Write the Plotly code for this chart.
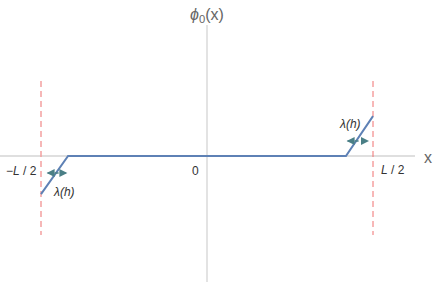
import plotly.graph_objects as go

# data (L = 2, so ±L/2 = ±1)
L = 2.0
lam = 0.163
curve_x = [-L/2, -L/2 + lam, L/2 - lam, L/2]
curve_phi = [-0.23, 0.0, 0.0, 0.24]
boundary_x = [-L/2, L/2]
tick_labels = ["\u2212<i>L</i> / 2", "0", "<i>L</i> / 2"]
lam_label = "<i>\u03bb(h)</i>"

S = 166.0  # px per unit
x0px, y0px = 207.0, 156.0
xr = [-x0px / S, (436 - x0px) / S]
yr = [-(286 - y0px) / S, y0px / S]

fig = go.Figure()
axis_col = "#d4d4d4"
# axes
fig.add_trace(go.Scatter(x=[xr[0], (415 - x0px) / S], y=[0, 0], mode="lines",
                         line=dict(color=axis_col, width=1.3), hoverinfo="skip"))
fig.add_trace(go.Scatter(x=[0, 0], y=[(y0px - 25) / S, -(282 - y0px) / S], mode="lines",
                         line=dict(color=axis_col, width=1.3), hoverinfo="skip"))
# boundaries
dtop, dbot = (y0px - 81) / S, -(235 - y0px) / S
fig.add_trace(go.Scatter(x=[boundary_x[0]] * 2, y=[dtop, dbot], mode="lines",
                         line=dict(color="#f4a0a0", width=1.5, dash="6px,4px"), hoverinfo="skip"))
fig.add_trace(go.Scatter(x=[boundary_x[1]] * 2, y=[dtop, dbot], mode="lines",
                         line=dict(color="#f07070", width=1, dash="6px,4px"), hoverinfo="skip"))
# curve
fig.add_trace(go.Scatter(x=curve_x, y=curve_phi, mode="lines",
                         line=dict(color="#5e81b5", width=2), hoverinfo="skip"))
# lambda arrows
arr_col = "#4a7f86"
for (xa, xb, yy) in [(-L/2 + 0.02, -L/2 + lam + 0.01, -(173 - y0px) / S),
                     (L/2 - lam - 0.01, L/2 - 0.01, (y0px - 141) / S)]:
    fig.add_trace(go.Scatter(x=[xa + 0.02, xb - 0.02], y=[yy, yy], mode="lines",
                             line=dict(color=arr_col, width=1.5, dash="4px,3px"), hoverinfo="skip"))
    fig.add_trace(go.Scatter(x=[xa + 0.014, xb - 0.014], y=[yy, yy], mode="markers",
                             marker=dict(symbol=["arrow-left", "arrow-right"], size=8,
                                         color=arr_col, line=dict(width=0)),
                             hoverinfo="skip"))

font = dict(family="Liberation Sans, Arial, sans-serif", size=12, color="#333333")
ann = [
    dict(x=-L/2 - 0.115, y=-(171 - y0px) / S, text=tick_labels[0]),
    dict(x=-(207 - 195) / S, y=-(171 - y0px) / S, text=tick_labels[1]),
    dict(x=L/2 + 0.12, y=-(170 - y0px) / S, text=tick_labels[2]),
    dict(x=(64 - x0px) / S, y=-(192 - y0px) / S, text=lam_label),
    dict(x=(350 - x0px) / S, y=(y0px - 124) / S, text=lam_label),
]
for a in ann:
    fig.add_annotation(x=a["x"], y=a["y"], text=a["text"], showarrow=False, font=font)
fig.add_annotation(x=(428 - x0px) / S, y=(y0px - 157) / S, text="x", showarrow=False,
                   font=dict(family="Liberation Sans, Arial, sans-serif", size=16, color="#666666"))
fig.add_annotation(x=0, y=(y0px - 15) / S, text="<i>\u03d5</i><sub>0</sub>(x)", showarrow=False,
                   font=dict(family="Liberation Sans, Arial, sans-serif", size=16, color="#666666"))

fig.update_layout(
    width=436, height=286, margin=dict(l=0, r=0, t=0, b=0),
    paper_bgcolor="white", plot_bgcolor="white", showlegend=False,
    xaxis=dict(range=xr, visible=False, fixedrange=True),
    yaxis=dict(range=yr, visible=False, fixedrange=True),
)
fig.write_html("out.html", config={"displayModeBar": False},
               post_script="document.body.style.margin='0';document.body.style.overflow='hidden';")
